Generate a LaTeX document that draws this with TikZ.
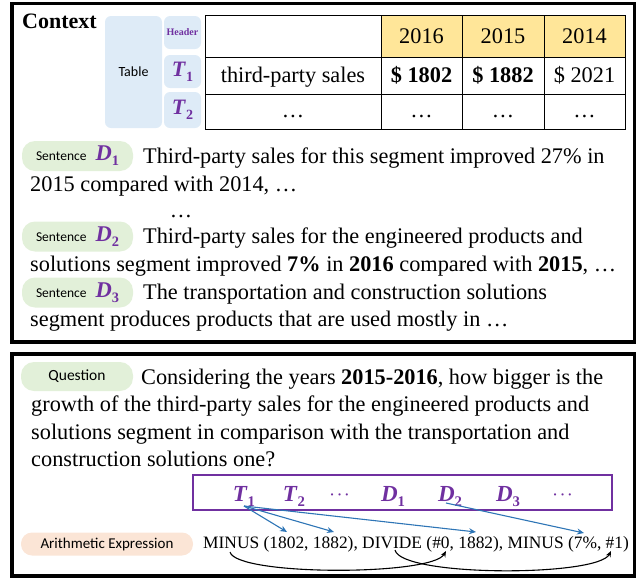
\documentclass[tikz,border=0pt]{standalone}
\usepackage{amsmath}
\usepackage{bm}
\usepackage{fontspec}
\setmainfont{Liberation Serif}
\newfontfamily\calib{Carlito}
\usetikzlibrary{arrows.meta}
\definecolor{purp}{HTML}{7030A0}
\definecolor{tblblue}{HTML}{DEEBF7}
\definecolor{pillgreen}{HTML}{E2F0D9}
\definecolor{pillpeach}{HTML}{FBE5D6}
\definecolor{hdryellow}{HTML}{FFE699}
\definecolor{arrblue}{HTML}{2E75B6}
\newcommand{\pvar}[3]{{\color{purp}\fontsize{#3}{#3}\selectfont\textbf{\textit{#1}}\raisebox{-0.22em}{\fontsize{0.64em}{0.64em}\selectfont\textbf{#2}}}}
\newcommand{\pdots}{{\color{purp}\fontsize{14.5}{14.5}\selectfont$\bm{\cdots}$}}
\begin{document}
\begin{tikzpicture}[x=1pt,y=-1pt,
  txt/.style={anchor=base west, inner sep=0pt, font=\fontsize{22.3}{27}\selectfont},
  tcell/.style={anchor=base, inner sep=0pt, font=\fontsize{22.3}{27}\selectfont},
  framebox/.style={line width=3.5pt},
  bluebox/.style={fill=tblblue, rounded corners=6pt, inner sep=0pt},
  gpill/.style={fill=pillgreen, rounded corners=13pt, inner sep=0pt, minimum width=111pt, minimum height=30pt},
  ppill/.style={fill=pillpeach, rounded corners=11pt, inner sep=0pt, minimum width=172pt, minimum height=23pt},
  bluearr/.style={draw=arrblue, line width=1.1pt, -{Stealth[length=7pt,width=6pt]}},
  blackarr/.style={draw=black, line width=1.1pt, -{Stealth[length=6pt,width=5pt]}},
  pvarnode/.style={anchor=base, inner sep=0pt}
]
\useasboundingbox (0,0) rectangle (641,579);
% frames
\draw[framebox] (12,3.5) rectangle (634.5,342);
\draw[framebox] (12,354) rectangle (634.5,576);

% Context
\node[anchor=base west, inner sep=0pt, font=\fontsize{22}{22}\selectfont\bfseries] (ctx) at (22,28) {Context};

% table side boxes
\node[bluebox, minimum width=57pt, minimum height=112pt, font=\calib\fontsize{14}{14}\selectfont] (tbl) at (133.5,72) {Table};
\node[bluebox, minimum width=37pt, minimum height=33pt, font=\fontsize{10}{10}\selectfont\bfseries, text=purp] (hdr) at (182.5,32.5) {Header};
\node[bluebox, minimum width=37pt, minimum height=33pt] (bt1) at (182.5,71.5) {\pvar{T}{1}{22}};
\node[bluebox, minimum width=37pt, minimum height=36pt] (bt2) at (182.5,110) {\pvar{T}{2}{22}};

% table grid
\fill[hdryellow] (381,15) rectangle (625,57);
\draw[line width=0.9pt] (205,15) rectangle (625,129);
\draw[line width=0.9pt] (205,57) -- (625,57);
\draw[line width=0.9pt] (205,94) -- (625,94);
\draw[line width=0.9pt] (381,15) -- (381,129);
\draw[line width=0.9pt] (462,15) -- (462,129);
\draw[line width=0.9pt] (544,15) -- (544,129);

\node[tcell] (y16) at (421.5,43) {2016};
\node[tcell] (y15) at (503,43) {2015};
\node[tcell] (y14) at (584.5,43) {2014};
\node[tcell] (tps) at (293,82) {third-party sales};
\node[tcell, font=\fontsize{22.3}{27}\selectfont\bfseries] (v16) at (421.5,82) {\$ 1802};
\node[tcell, font=\fontsize{22.3}{27}\selectfont\bfseries] (v15) at (503,82) {\$ 1882};
\node[tcell] (v14) at (584.5,82) {\$ 2021};
\node[tcell] (e1) at (293,117) {…};
\node[tcell] (e2) at (421.5,117) {…};
\node[tcell] (e3) at (503,117) {…};
\node[tcell] (e4) at (584.5,117) {…};

% sentences
\node[gpill] (s1) at (77.5,156) {{\calib\fontsize{13.5}{13.5}\selectfont Sentence}\hspace{9pt}\pvar{D}{1}{22.5}};
\node[txt] (s1a) at (143,163) {Third-party sales for this segment improved 27\% in};
\node[txt] (s1b) at (30,191) {2015 compared with 2014, …};
\node[tcell] (sdots) at (181,217) {…};
\node[gpill] (s2) at (77.5,236.5) {{\calib\fontsize{13.5}{13.5}\selectfont Sentence}\hspace{9pt}\pvar{D}{2}{22.5}};
\node[txt] (s2a) at (143,243) {Third-party sales for the engineered products and};
\node[txt] (s2b) at (30,271) {solutions segment improved \textbf{7\%} in \textbf{2016} compared with \textbf{2015}, …};
\node[gpill] (s3) at (77.5,292.5) {{\calib\fontsize{13.5}{13.5}\selectfont Sentence}\hspace{9pt}\pvar{D}{3}{22.5}};
\node[txt] (s3a) at (143,299) {The transportation and construction solutions};
\node[txt] (s3b) at (30,326) {segment produces products that are used mostly in …};

% question
\node[gpill, minimum width=112pt, minimum height=29pt, font=\calib\fontsize{15.5}{15.5}\selectfont] (q) at (77,376.5) {Question};
\node[txt] (q1) at (141,384) {Considering the years \textbf{2015-2016}, how bigger is the};
\node[txt] (q2) at (31,411) {growth of the third-party sales for the engineered products and};
\node[txt] (q3) at (31,439) {solutions segment in comparison with the transportation and};
\node[txt] (q4) at (31,466) {construction solutions one?};

% purple box
\draw[draw=purp, line width=1.3pt] (193,475) rectangle (612,510);
\node[pvarnode] (pt1) at (244,501) {\pvar{T}{1}{23}};
\node[pvarnode] (pt2) at (294,501) {\pvar{T}{2}{23}};
\node[pvarnode] (pd0) at (341,498) {\pdots};
\node[pvarnode] (pd1) at (393,501) {\pvar{D}{1}{23}};
\node[pvarnode] (pd2) at (450,501) {\pvar{D}{2}{23}};
\node[pvarnode] (pd3) at (508,501) {\pvar{D}{3}{23}};
\node[pvarnode] (pd4) at (564,498) {\pdots};

% arithmetic expression
\node[ppill, font=\calib\fontsize{15}{15}\selectfont] (ae) at (107,544) {Arithmetic Expression};
\node[anchor=base west, inner sep=0pt, font=\fontsize{17.4}{20}\selectfont] (expr) at (203,548) {MINUS (1802, 1882), DIVIDE (\#0, 1882), MINUS (7\%, \#1)};

% arrow endpoints
\coordinate (t1o) at (244,506);
\coordinate (d2o) at (446,503);
\coordinate (a1802) at (287,532);
\coordinate (a1882) at (334,532);
\coordinate (b1882) at (476,532);
\coordinate (a7) at (584,533);
\coordinate (minus1) at (230,552);
\coordinate (hash0) at (446,551);
\coordinate (divide) at (395,550);
\coordinate (hash1) at (611,551);

\draw[bluearr] (t1o) -- (a1802);
\draw[bluearr] (t1o) -- (a1882);
\draw[bluearr] (t1o) -- (b1882);
\draw[bluearr] (d2o) -- (a7);

\draw[blackarr] (minus1) .. controls (236,576) and (432,576) .. (hash0);
\draw[blackarr] (divide) .. controls (401,577) and (598,577) .. (hash1);
\end{tikzpicture}
\end{document}
